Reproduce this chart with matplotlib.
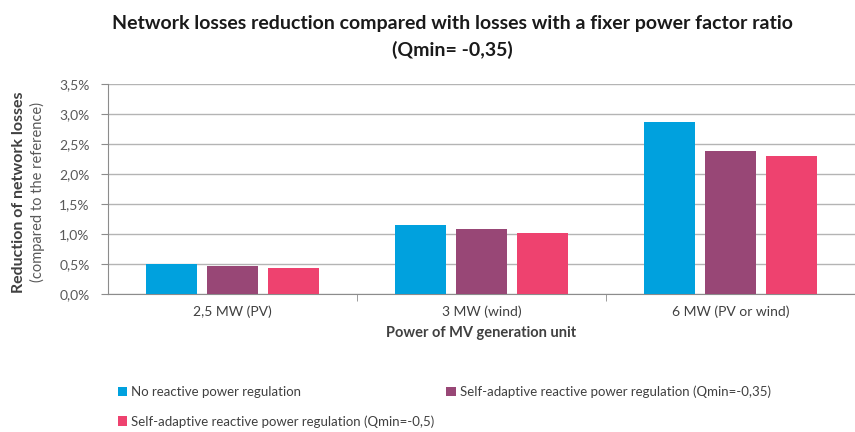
import numpy as np
import matplotlib
matplotlib.use("Agg")
import matplotlib.pyplot as plt
from matplotlib.ticker import FuncFormatter, FixedLocator

plt.rcParams['font.family'] = ['Lato', 'DejaVu Sans']

# data (reduction of losses, %)
categories = ["2,5 MW (PV)", "3 MW (wind)", "6 MW (PV or wind)"]
series_names = [
    "No reactive power regulation",
    "Self-adaptive reactive power regulation (Qmin=-0,35)",
    "Self-adaptive reactive power regulation (Qmin=-0,5)",
]
no_regulation = [0.50, 1.15, 2.87]
self_adaptive_035 = [0.47, 1.08, 2.38]
self_adaptive_05 = [0.44, 1.01, 2.30]

colors = ["#00A1DE", "#984776", "#EE426F"]

fig = plt.figure(figsize=(8.55, 4.32), dpi=100)
ax = fig.add_axes([0.126, 0.319, 0.874, 0.487])

x = np.arange(len(categories))
width = 0.205
step = 0.245
handles = []
for i, (vals, col, name) in enumerate(zip([no_regulation, self_adaptive_035, self_adaptive_05], colors, series_names)):
    h = ax.bar(x + (i - 1) * step, vals, width, color=col, label=name, zorder=3)
    handles.append(h)

ax.set_xlim(-0.5, 2.5)
ax.set_ylim(0, 3.5)
ax.set_yticks(np.arange(0, 3.51, 0.5))
ax.yaxis.set_major_formatter(FuncFormatter(lambda v, p: ("%.1f%%" % v).replace(".", ",")))
ax.grid(axis='y', color="#b4b4b4", linewidth=1.0, zorder=0)

ax.set_xticks(x)
ax.set_xticklabels(categories)
ax.xaxis.set_minor_locator(FixedLocator([0.5, 1.5]))
ax.tick_params(axis='x', which='major', length=0, pad=8, labelsize=10, labelcolor="#404040")
ax.tick_params(axis='x', which='minor', length=5, color="#8c8c8c", direction='out')
ax.tick_params(axis='y', length=5, color="#8c8c8c", labelsize=10, labelcolor="#595959", pad=8)

for s in ['top', 'right']:
    ax.spines[s].set_visible(False)
ax.spines['left'].set_color("#8c8c8c")
ax.spines['bottom'].set_color("#8c8c8c")

ax.set_xlabel("Power of MV generation unit", fontsize=10.5, fontweight='bold', color="#404040", labelpad=6)

fig.text(0.022, 0.555, "Reduction of network losses", rotation=90, ha='center', va='center',
         fontsize=11.5, fontweight='bold', color="#404040")
fig.text(0.044, 0.555, "(compared to the reference)", rotation=90, ha='center', va='center',
         fontsize=10.5, color="#595959")

fig.text(0.529, 0.945, "Network losses reduction compared with losses with a fixer power factor ratio",
         ha='center', va='center', fontsize=14, fontweight='bold', color="#1a1a1a")
fig.text(0.529, 0.885, "(Qmin= -0,35)", ha='center', va='center', fontsize=14, fontweight='bold', color="#1a1a1a")

# reorder so legend fills row by row
order = [0, 2, 1]
leg = fig.legend([handles[k] for k in order], [series_names[k] for k in order],
                 loc='upper left', bbox_to_anchor=(0.132, 0.12), ncol=2, frameon=False,
                 fontsize=9.5, handlelength=0.7, handleheight=0.7, handletextpad=0.3,
                 columnspacing=0.9, labelspacing=1.3, borderaxespad=0)
for t in leg.get_texts():
    t.set_color("#404040")

fig.savefig("out.png", dpi=100)
